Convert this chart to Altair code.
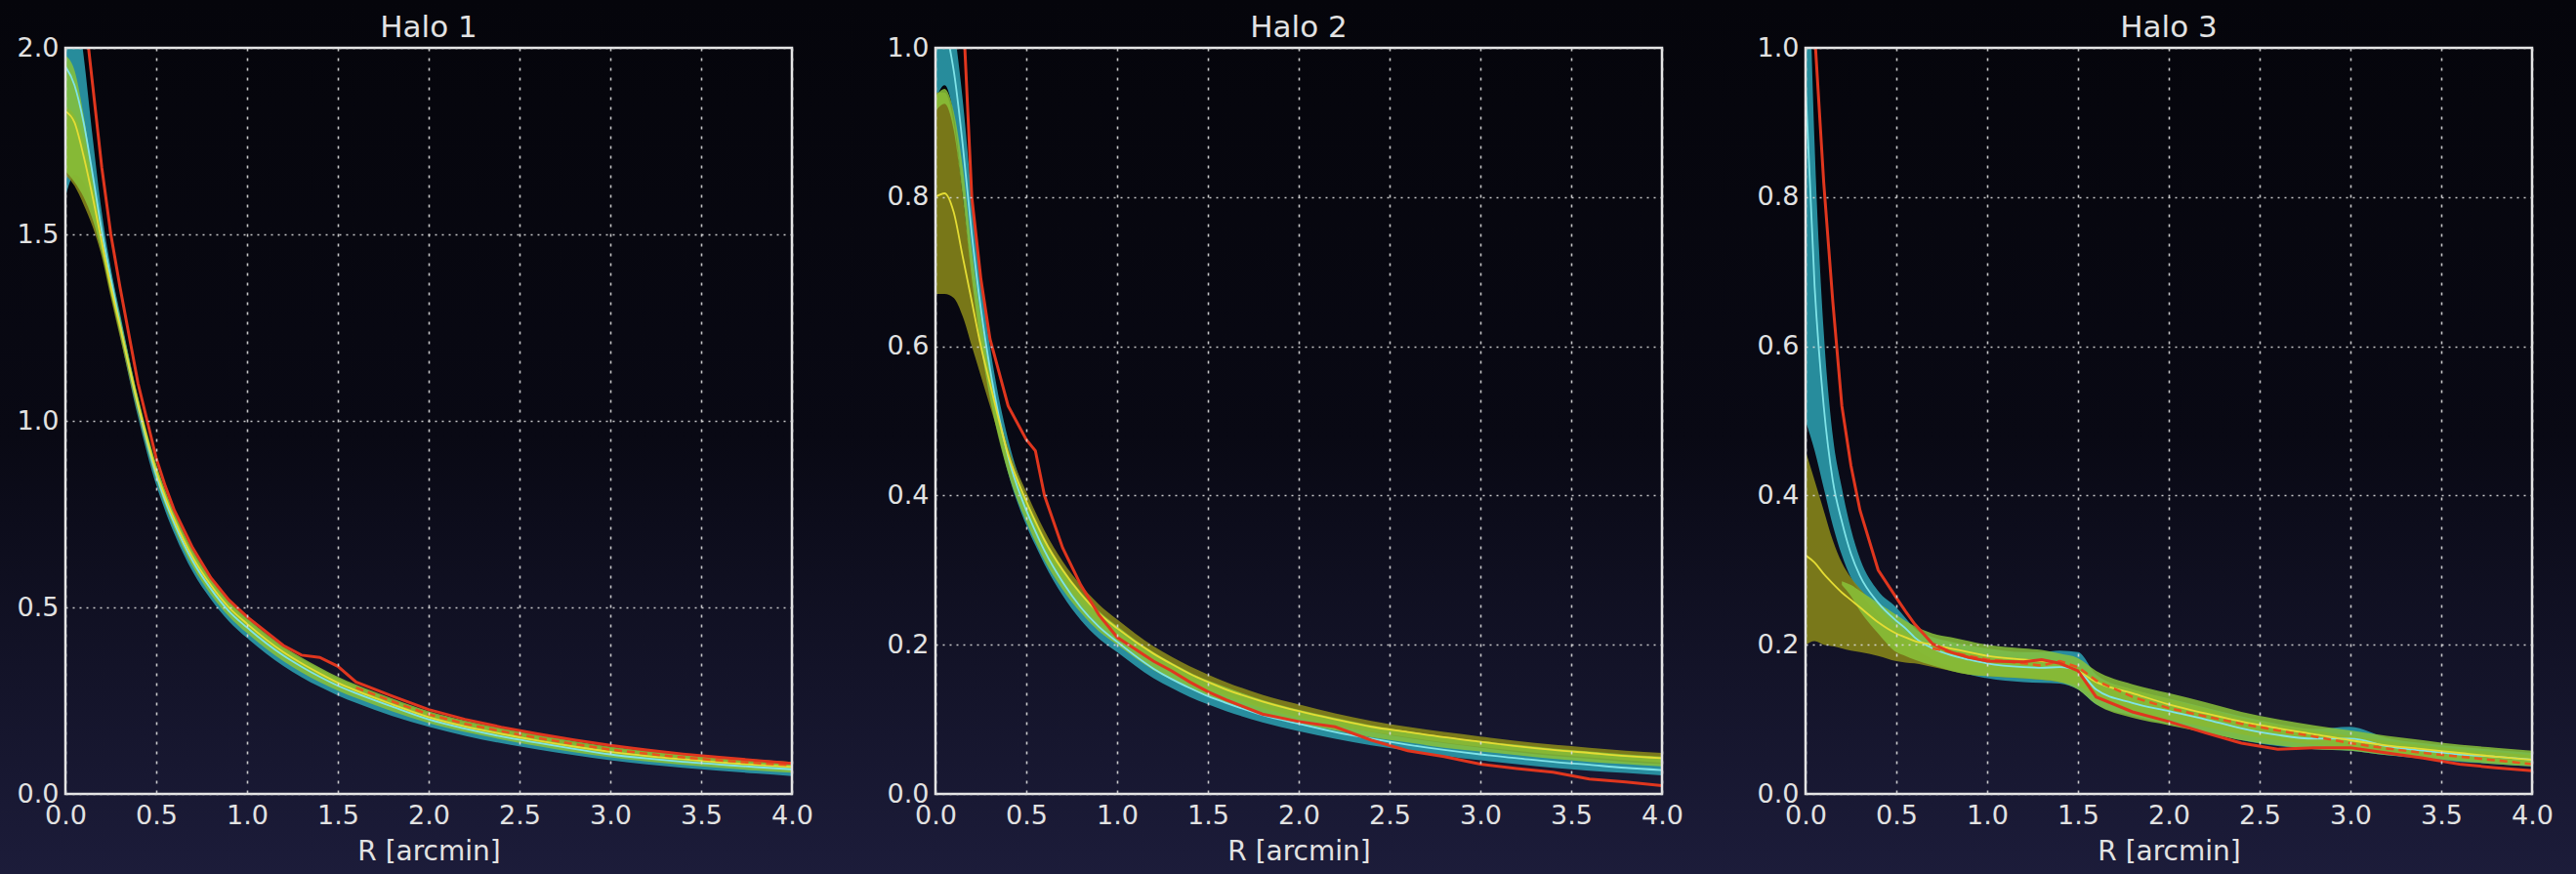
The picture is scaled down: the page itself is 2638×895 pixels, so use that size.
import altair as alt
import pandas as pd

# ---------------- data ----------------
R = [0.0, 0.05, 0.1, 0.15, 0.2, 0.25, 0.3, 0.4, 0.5, 0.55, 0.6, 0.7, 0.8, 0.9, 1.0, 1.2,
     1.3, 1.4, 1.5, 1.6, 1.8, 2.0, 2.2, 2.4, 2.6, 2.8, 3.0, 3.2, 3.4, 3.6, 3.8, 4.0]

TITLES = ["Halo 1", "Halo 2", "Halo 3"]
X_TICKS = [0.0, 0.5, 1.0, 1.5, 2.0, 2.5, 3.0, 3.5, 4.0]
Y_TICKS_1 = [0.0, 0.5, 1.0, 1.5, 2.0]
Y_TICKS_23 = [0.0, 0.2, 0.4, 0.6, 0.8, 1.0]
Y_MAX = [2.0, 1.0, 1.0]
N = None

# Halo 1
h1_cyan_hi = [2.3, 2.15, 1.98, 1.76, 1.56, 1.41, 1.29, 1.06, 0.875, 0.805, 0.745, 0.645, 0.568, 0.508, 0.462, 0.386,
              0.356, 0.329, 0.304, 0.283, 0.246, 0.211, 0.186, 0.165, 0.147, 0.13, 0.115, 0.104, 0.095, 0.087, 0.08, 0.074]
h1_cyan_lo = [1.6, 1.66, 1.64, 1.56, 1.46, 1.345, 1.23, 1.01, 0.828, 0.758, 0.697, 0.596, 0.522, 0.463, 0.418, 0.343,
              0.313, 0.287, 0.264, 0.244, 0.209, 0.18, 0.156, 0.136, 0.119, 0.104, 0.09, 0.079, 0.07, 0.062, 0.055, 0.048]
h1_cyan_mid = [1.95, 1.9, 1.8, 1.66, 1.51, 1.38, 1.26, 1.04, 0.855, 0.785, 0.725, 0.625, 0.55, 0.49, 0.446, 0.371,
               0.341, 0.314, 0.29, 0.27, 0.234, 0.2, 0.175, 0.154, 0.137, 0.121, 0.106, 0.095, 0.086, 0.079, 0.072, 0.066]
h1_green_hi = [1.98, 1.94, 1.82, 1.66, 1.52, 1.39, 1.28, 1.065, 0.885, 0.815, 0.755, 0.655, 0.578, 0.518, 0.472, 0.396,
               0.366, 0.339, 0.314, 0.293, 0.256, 0.222, 0.197, 0.177, 0.159, 0.142, 0.127, 0.116, 0.107, 0.099, 0.092, 0.086]
h1_green_lo = [1.67, 1.64, 1.6, 1.54, 1.45, 1.34, 1.235, 1.025, 0.843, 0.772, 0.711, 0.61, 0.535, 0.476, 0.431, 0.356,
               0.326, 0.3, 0.277, 0.257, 0.221, 0.19, 0.166, 0.146, 0.128, 0.112, 0.098, 0.087, 0.078, 0.07, 0.063, 0.057]
h1_olive_hi = [1.84, 1.82, 1.75, 1.63, 1.5, 1.38, 1.27, 1.06, 0.88, 0.81, 0.75, 0.65, 0.574, 0.514, 0.468, 0.392,
               0.362, 0.335, 0.31, 0.289, 0.252, 0.218, 0.193, 0.173, 0.155, 0.138, 0.124, 0.113, 0.104, 0.096, 0.089, 0.083]
h1_olive_lo = [1.66, 1.63, 1.58, 1.52, 1.44, 1.33, 1.225, 1.02, 0.845, 0.775, 0.715, 0.615, 0.542, 0.484, 0.44, 0.365,
               0.335, 0.309, 0.285, 0.265, 0.229, 0.197, 0.172, 0.152, 0.134, 0.118, 0.104, 0.093, 0.084, 0.076, 0.069, 0.063]
h1_yellow = [1.83, 1.8, 1.71, 1.6, 1.48, 1.36, 1.255, 1.045, 0.865, 0.795, 0.735, 0.635, 0.56, 0.5, 0.456, 0.38,
             0.35, 0.323, 0.298, 0.277, 0.24, 0.206, 0.181, 0.161, 0.143, 0.127, 0.113, 0.102, 0.093, 0.085, 0.078, 0.072]
h1_red = [2.6, 2.35, 2.12, 1.9, 1.68, 1.5, 1.36, 1.1, 0.9, 0.825, 0.76, 0.66, 0.58, 0.52, 0.475, 0.398,
          0.372, 0.366, 0.342, 0.3, 0.262, 0.226, 0.2, 0.179, 0.161, 0.145, 0.13, 0.118, 0.107, 0.098, 0.09, 0.082]
h1_red_dash = [N, N, N, N, N, N, N, N, N, N, N, N, N, N, N, N,
               N, N, N, 0.285, 0.248, 0.213, 0.188, 0.168, 0.15, 0.134, 0.119, 0.108, 0.098, 0.09, 0.083, 0.077]

# Halo 2
h2_cyan_hi = [1.12, 1.09, 1.03, 0.93, 0.8, 0.69, 0.6, 0.475, 0.4, 0.372, 0.345, 0.302, 0.268, 0.24, 0.218, 0.181,
              0.167, 0.154, 0.143, 0.134, 0.117, 0.104, 0.093, 0.083, 0.075, 0.068, 0.062, 0.056, 0.051, 0.047, 0.043, 0.04]
h2_cyan_lo = [0.93, 0.95, 0.91, 0.81, 0.7, 0.61, 0.54, 0.43, 0.36, 0.333, 0.308, 0.266, 0.233, 0.208, 0.19, 0.155,
              0.142, 0.13, 0.12, 0.111, 0.096, 0.084, 0.074, 0.065, 0.058, 0.051, 0.045, 0.04, 0.035, 0.031, 0.028, 0.025]
h2_cyan_mid = [1.02, 1.02, 0.97, 0.87, 0.75, 0.65, 0.57, 0.452, 0.38, 0.352, 0.326, 0.284, 0.25, 0.224, 0.204, 0.168,
               0.154, 0.142, 0.131, 0.122, 0.106, 0.094, 0.083, 0.074, 0.066, 0.059, 0.053, 0.048, 0.043, 0.039, 0.035, 0.032]
h2_green_hi = [0.935, 0.945, 0.915, 0.84, 0.73, 0.64, 0.565, 0.46, 0.395, 0.368, 0.343, 0.303, 0.271, 0.245, 0.225, 0.19,
               0.176, 0.163, 0.152, 0.143, 0.126, 0.113, 0.102, 0.092, 0.084, 0.077, 0.071, 0.066, 0.061, 0.057, 0.053, 0.05]
h2_green_lo = [0.915, 0.925, 0.89, 0.8, 0.69, 0.6, 0.53, 0.43, 0.365, 0.338, 0.313, 0.274, 0.243, 0.218, 0.2, 0.166,
               0.153, 0.141, 0.131, 0.122, 0.107, 0.095, 0.085, 0.076, 0.069, 0.062, 0.057, 0.052, 0.047, 0.043, 0.04, 0.037]
h2_olive_hi = [0.94, 0.94, 0.9, 0.8, 0.7, 0.62, 0.56, 0.465, 0.405, 0.378, 0.353, 0.312, 0.28, 0.254, 0.234, 0.198,
               0.184, 0.171, 0.16, 0.15, 0.133, 0.12, 0.108, 0.098, 0.09, 0.083, 0.077, 0.071, 0.066, 0.062, 0.058, 0.055]
h2_olive_lo = [0.67, 0.67, 0.665, 0.64, 0.6, 0.56, 0.52, 0.44, 0.38, 0.352, 0.327, 0.288, 0.256, 0.23, 0.211, 0.177,
               0.163, 0.151, 0.14, 0.131, 0.115, 0.102, 0.092, 0.083, 0.076, 0.069, 0.063, 0.058, 0.053, 0.049, 0.045, 0.042]
h2_yellow = [0.8, 0.805, 0.78, 0.72, 0.66, 0.6, 0.55, 0.455, 0.392, 0.365, 0.34, 0.3, 0.268, 0.242, 0.222, 0.188,
             0.174, 0.161, 0.15, 0.14, 0.124, 0.111, 0.1, 0.09, 0.083, 0.076, 0.07, 0.064, 0.059, 0.055, 0.051, 0.048]
h2_red = [1.6, 1.4, 1.22, 1.06, 0.8, 0.69, 0.61, 0.52, 0.475, 0.46, 0.4, 0.33, 0.28, 0.24, 0.21, 0.178,
          0.165, 0.15, 0.137, 0.126, 0.107, 0.097, 0.09, 0.072, 0.058, 0.05, 0.04, 0.034, 0.029, 0.02, 0.016, 0.011]
h2_red_dash = [N] * 32

# Halo 3
h3_cyan_hi = [1.3, 0.87, 0.62, 0.48, 0.41, 0.355, 0.315, 0.272, 0.25, 0.236, 0.222, 0.21, 0.204, 0.199, 0.195, 0.19,
              0.19, 0.192, 0.19, 0.16, 0.14, 0.128, 0.116, 0.104, 0.094, 0.087, 0.09, 0.075, 0.068, 0.063, 0.059, 0.055]
h3_cyan_lo = [0.5, 0.46, 0.41, 0.36, 0.32, 0.29, 0.27, 0.24, 0.215, 0.205, 0.195, 0.18, 0.168, 0.16, 0.155, 0.15,
              0.149, 0.148, 0.14, 0.12, 0.105, 0.094, 0.083, 0.072, 0.064, 0.06, 0.058, 0.052, 0.047, 0.043, 0.04, 0.037]
h3_cyan_mid = [0.95, 0.68, 0.52, 0.42, 0.365, 0.322, 0.292, 0.256, 0.232, 0.222, 0.21, 0.195, 0.186, 0.18, 0.175, 0.17,
               0.169, 0.17, 0.165, 0.14, 0.122, 0.111, 0.1, 0.088, 0.079, 0.074, 0.074, 0.064, 0.058, 0.053, 0.05, 0.046]
h3_green_hi = [N, N, N, N, 0.285, 0.28, 0.272, 0.256, 0.24, 0.232, 0.225, 0.215, 0.21, 0.205, 0.2, 0.195,
               0.193, 0.188, 0.182, 0.165, 0.147, 0.135, 0.123, 0.11, 0.1, 0.092, 0.085, 0.078, 0.072, 0.066, 0.062, 0.058]
h3_green_lo = [N, N, N, N, 0.28, 0.265, 0.245, 0.215, 0.19, 0.185, 0.18, 0.172, 0.165, 0.16, 0.158, 0.155,
               0.153, 0.15, 0.14, 0.12, 0.102, 0.092, 0.082, 0.072, 0.065, 0.06, 0.058, 0.052, 0.048, 0.044, 0.04, 0.037]
h3_olive_hi = [0.46, 0.42, 0.38, 0.34, 0.31, 0.29, 0.275, 0.25, 0.225, 0.217, 0.21, 0.2, 0.195, 0.19, 0.186, 0.182,
               0.18, 0.177, 0.17, 0.155, 0.14, 0.127, 0.115, 0.102, 0.093, 0.085, 0.078, 0.071, 0.065, 0.06, 0.056, 0.052]
h3_olive_lo = [0.2, 0.205, 0.2, 0.198, 0.195, 0.192, 0.19, 0.185, 0.178, 0.176, 0.175, 0.17, 0.165, 0.16, 0.158, 0.155,
               0.153, 0.15, 0.145, 0.13, 0.112, 0.1, 0.09, 0.08, 0.072, 0.066, 0.062, 0.056, 0.051, 0.047, 0.043, 0.04]
h3_yellow = [0.32, 0.31, 0.295, 0.282, 0.27, 0.26, 0.25, 0.23, 0.215, 0.21, 0.205, 0.2, 0.195, 0.19, 0.185, 0.18,
             0.178, 0.175, 0.165, 0.15, 0.135, 0.12, 0.108, 0.097, 0.088, 0.08, 0.072, 0.065, 0.06, 0.055, 0.05, 0.046]
h3_red = [1.2, 1.02, 0.82, 0.66, 0.52, 0.44, 0.38, 0.3, 0.263, 0.245, 0.228, 0.201, 0.19, 0.183, 0.178, 0.177,
          0.18, 0.175, 0.165, 0.13, 0.11, 0.097, 0.082, 0.068, 0.06, 0.062, 0.062, 0.055, 0.048, 0.04, 0.035, 0.031]
h3_red_dash = [N, N, N, N, N, N, N, N, N, N, N, 0.195, 0.19, 0.185, 0.18, 0.175,
               0.172, 0.178, 0.17, 0.152, 0.13, 0.115, 0.104, 0.094, 0.085, 0.077, 0.068, 0.061, 0.055, 0.05, 0.045, 0.04]

PANELS = [
    dict(cyan_hi=h1_cyan_hi, cyan_lo=h1_cyan_lo, cyan_mid=h1_cyan_mid, green_hi=h1_green_hi, green_lo=h1_green_lo,
         olive_hi=h1_olive_hi, olive_lo=h1_olive_lo, yellow=h1_yellow, red=h1_red, red_dash=h1_red_dash),
    dict(cyan_hi=h2_cyan_hi, cyan_lo=h2_cyan_lo, cyan_mid=h2_cyan_mid, green_hi=h2_green_hi, green_lo=h2_green_lo,
         olive_hi=h2_olive_hi, olive_lo=h2_olive_lo, yellow=h2_yellow, red=h2_red, red_dash=h2_red_dash),
    dict(cyan_hi=h3_cyan_hi, cyan_lo=h3_cyan_lo, cyan_mid=h3_cyan_mid, green_hi=h3_green_hi, green_lo=h3_green_lo,
         olive_hi=h3_olive_hi, olive_lo=h3_olive_lo, yellow=h3_yellow, red=h3_red, red_dash=h3_red_dash),
]

# ---------------- styling ----------------
W, H = 744, 764
SPACING = 147
LEFT, TOP = 67, 49
CANVAS_W, CANVAS_H = 2638, 895
FONT = "DejaVu Sans"
TEXT = "#e2e2e2"

bg_gradient = alt.LinearGradient(
    gradient="linear", x1=0, x2=0, y1=0, y2=1,
    stops=[alt.GradientStop(color="#05050b", offset=0.0),
           alt.GradientStop(color="#090914", offset=0.5),
           alt.GradientStop(color="#1c1c3a", offset=1.0)],
)

one_row = pd.DataFrame({"k": [0]})


def panel(i):
    d = PANELS[i]
    df = pd.DataFrame({"R": R, **d})
    ymax = Y_MAX[i]
    yticks = Y_TICKS_1 if i == 0 else Y_TICKS_23

    xaxis = alt.Axis(values=X_TICKS, format=".1f", grid=True, gridDash=[3, 7], gridColor="#dcdcdc",
                     gridWidth=1.6, gridOpacity=0.9, domain=False, ticks=False, labelFontSize=27,
                     labelColor=TEXT, labelFont=FONT, labelPadding=9, labelFlush=False, labelOverlap=False,
                     titleFontSize=28, titleFont=FONT, titleColor=TEXT, titleFontWeight="normal",
                     titlePadding=10, zindex=1)
    yaxis = alt.Axis(values=yticks, format=".1f", grid=True, gridDash=[2, 5], gridColor="#dcdcdc",
                     gridWidth=1.6, gridOpacity=0.9, domain=False, ticks=False, labelFontSize=27,
                     labelColor=TEXT, labelFont=FONT, labelPadding=7, labelFlush=False, labelOverlap=False,
                     title=None, zindex=1)
    xs = alt.Scale(domain=[0, 4], nice=False, zero=False)
    ys = alt.Scale(domain=[0, ymax], nice=False, zero=False)

    def X():
        return alt.X("R:Q", scale=xs, axis=xaxis, title="R [arcmin]")

    def Y(f):
        return alt.Y(f + ":Q", scale=ys, axis=yaxis, title=None)

    base = alt.Chart(df)

    right_ext = W + SPACING if i < 2 else CANVAS_W - LEFT - 2 * (W + SPACING)
    bg = alt.Chart(one_row).mark_rect(fill=bg_gradient).encode(
        x=alt.value(-LEFT), x2=alt.value(right_ext), y=alt.value(-TOP), y2=alt.value(CANVAS_H - TOP))

    cyan_band = base.mark_area(color="#2a98a8", opacity=0.92, clip=True, interpolate="monotone").encode(
        x=X(), y=Y("cyan_lo"), y2="cyan_hi:Q")
    olive_band = base.mark_area(color="#85841a", opacity=0.9, clip=True, interpolate="monotone").encode(
        x=X(), y=Y("olive_lo"), y2="olive_hi:Q")
    green_band = base.mark_area(color="#88c23a", opacity=0.85, clip=True, interpolate="monotone").encode(
        x=X(), y=Y("green_lo"), y2="green_hi:Q")
    cyan_line = base.mark_line(color="#7fe3e8", strokeWidth=1.8, clip=True, interpolate="monotone").encode(
        x=X(), y=Y("cyan_mid"))
    yellow_line = base.mark_line(color="#e4dc34", strokeWidth=1.8, clip=True, interpolate="monotone").encode(
        x=X(), y=Y("yellow"))
    red_dash = base.mark_line(color="#e8561e", strokeWidth=2.5, strokeDash=[8, 5], clip=True).encode(
        x=X(), y=Y("red_dash"))
    red = base.mark_line(color="#e0361e", strokeWidth=3, clip=True).encode(x=X(), y=Y("red"))

    frame = alt.Chart(one_row).mark_rect(filled=False, stroke="#e6e6e6", strokeWidth=2.5).encode(
        x=alt.value(0), x2=alt.value(W), y=alt.value(0), y2=alt.value(H))

    title = alt.Chart(pd.DataFrame({"t": [TITLES[i]]})).mark_text(
        font=FONT, fontSize=31, color=TEXT, align="center", baseline="alphabetic"
    ).encode(text="t:N", x=alt.value(W / 2), y=alt.value(-11))

    layers = [bg, cyan_band, olive_band, green_band, cyan_line, yellow_line]
    if any(v is not None for v in d["red_dash"]):
        layers.append(red_dash)
    layers += [red, frame, title]

    return alt.layer(*layers).properties(width=W, height=H)


chart = alt.hconcat(panel(0), panel(1), panel(2), spacing=SPACING, bounds="flush").properties(
    padding=0, background="#0a0a16"
).configure_view(strokeWidth=0)

chart.save("out.html", embed_options={"renderer": "svg", "actions": False})
